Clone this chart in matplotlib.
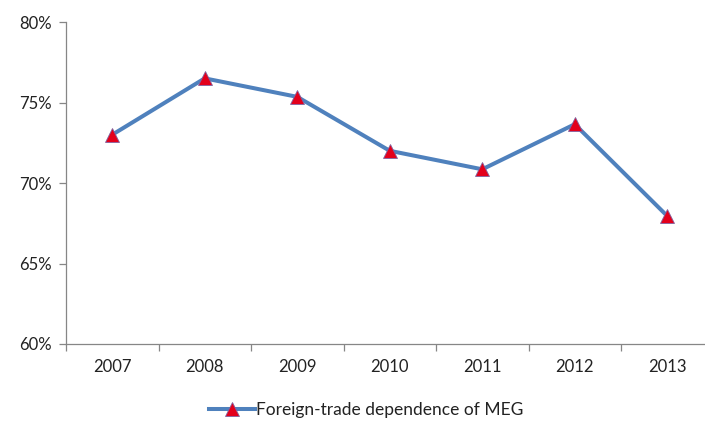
import matplotlib
matplotlib.use("Agg")
import matplotlib.pyplot as plt
from matplotlib.ticker import FixedLocator, FuncFormatter

years = ["2007", "2008", "2009", "2010", "2011", "2012", "2013"]
dependence = [73.0, 76.5, 75.35, 72.0, 70.85, 73.65, 67.95]
series_name = "Foreign-trade dependence of MEG"
y_ticks = [60, 65, 70, 75, 80]

plt.rcParams['font.family'] = ['Lato', 'DejaVu Sans']

fig = plt.figure(figsize=(7.05, 4.23), dpi=100)
ax = fig.add_axes([66/705, 1-344/423, 647.5/705, (344-22)/423])

x = list(range(len(years)))
ax.plot(x, dependence, color="#4F81BD", linewidth=2.9, marker="^",
        markersize=10, markerfacecolor="#E3001B", markeredgecolor="#8064A2",
        markeredgewidth=0.6, label=series_name, zorder=3, clip_on=False)

ax.set_xlim(-0.5, 6.5)
ax.set_ylim(60, 80)
ax.set_yticks(y_ticks)
ax.yaxis.set_major_formatter(FuncFormatter(lambda v, p: f"{v:.0f}%"))
ax.set_xticks(x)
ax.set_xticklabels(years)
ax.xaxis.set_minor_locator(FixedLocator([i - 0.5 for i in range(len(years) + 1)]))
ax.tick_params(axis='x', which='major', length=0, pad=11, labelsize=12, colors="#222222")
ax.tick_params(axis='x', which='minor', length=5, width=0.9, color="#868686", direction='out')
ax.tick_params(axis='y', length=5, width=0.9, color="#868686", direction='out', labelsize=12,
               labelcolor="#222222", pad=5)

for s in ["top", "right"]:
    ax.spines[s].set_visible(False)
for s in ["left", "bottom"]:
    ax.spines[s].set_color("#868686")
    ax.spines[s].set_linewidth(0.9)

leg = fig.legend(loc="center", bbox_to_anchor=(0.52, 1-410/423), frameon=False,
                 fontsize=12.5, handlelength=2.6, handletextpad=0.1)
for t in leg.get_texts():
    t.set_color("#222222")

fig.savefig("out.png", dpi=100)
